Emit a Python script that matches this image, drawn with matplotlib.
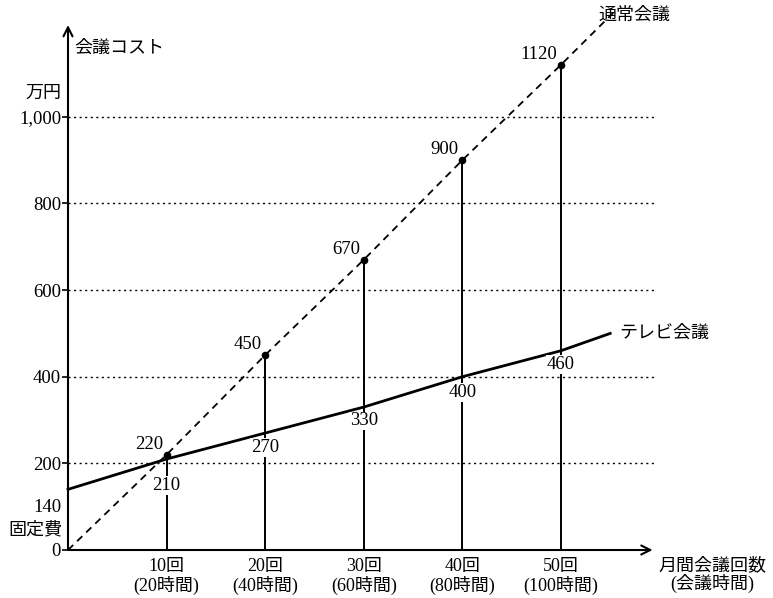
import matplotlib.pyplot as plt

plt.rcParams['font.family'] = ['Liberation Serif', 'Noto Sans CJK JP']
plt.rcParams['font.size'] = 13

# 月間会議回数と会議時間
meetings = [10, 20, 30, 40, 50]
hours = [20, 40, 60, 80, 100]

# 会議コスト（万円）
normal_cost = [220, 450, 670, 900, 1120]
tv_cost = [210, 270, 330, 400, 460]
fixed_cost = 140

# 直線の終点（グラフ外まで延長）
normal_end = (55.3, 1240)
tv_end = (55.0, 500)

y_ticks = [0, 200, 400, 600, 800, 1000]
y_tick_labels = ['0', '200', '400', '600', '800', '1,000']

W, H = 773, 598
fig = plt.figure(figsize=(W / 100, H / 100), dpi=100)
ax = fig.add_axes([68 / W, 48 / H, 591.5 / W, 525 / H])
ax.set_xlim(0, 60)
ax.set_ylim(0, 1212)
for s in ax.spines.values():
    s.set_visible(False)

# 補助線
ax.hlines(y_ticks[1:], 0, 59.5, colors='k', lw=1, linestyles=(0, (1.5, 2.5)))

# 軸（矢印）
arrow = dict(arrowstyle='->,head_length=0.5,head_width=0.25', lw=1.5,
             color='k', shrinkA=0, shrinkB=0)
ax.annotate('', xy=(59.3, 0), xytext=(0, 0), arrowprops=arrow, annotation_clip=False)
ax.annotate('', xy=(0, 1212), xytext=(0, 0), arrowprops=arrow, annotation_clip=False)

ax.set_yticks(y_ticks, y_tick_labels, fontsize=13.5)
ax.tick_params(axis='y', length=4, width=1.2, pad=1, direction='out')
ax.set_xticks(meetings, [f'{m}回\n({h}時間)' for m, h in zip(meetings, hours)])
ax.tick_params(axis='x', length=0, pad=6)
for lab in ax.get_xticklabels():
    lab.set_linespacing(1.05)

# 通常会議
ax.vlines(meetings, 0, normal_cost, colors='k', lw=1.4)
ax.plot([0] + meetings + [normal_end[0]], [0] + normal_cost + [normal_end[1]],
        color='k', lw=1.3, ls=(0, (4, 3)), clip_on=False)
ax.plot(meetings, normal_cost, 'o', ms=4.5, color='k')
for m, v in zip(meetings, normal_cost):
    ax.annotate(str(v), (m, v), xytext=(-2.5, 7.5), textcoords='offset points',
                ha='right', va='center', fontsize=13.5)

# テレビ会議
ax.plot([0] + meetings + [tv_end[0]], [fixed_cost] + tv_cost + [tv_end[1]],
        color='k', lw=2, clip_on=False)
tv_dy = [-19, -10.5, -10, -11.5, -10]
for m, v, dy in zip(meetings, tv_cost, tv_dy):
    ax.annotate(str(v), (m, v), xytext=(0, dy), textcoords='offset points',
                ha='center', va='center', fontsize=13.5,
                bbox=dict(boxstyle='square,pad=0.05', fc='white', ec='none'))

# 文字
fig.text(74 / W, 1 - 48 / H, '会議コスト', ha='left', va='center')
fig.text(61 / W, 1 - 93 / H, '万円', ha='right', va='center')
fig.text(598 / W, 1 - 15 / H, '通常会議', ha='left', va='center')
fig.text(619 / W, 1 - 333 / H, 'テレビ会議', ha='left', va='center')
fig.text(62 / W, 1 - 508 / H, str(fixed_cost), ha='right', va='center', fontsize=13.5)
fig.text(62 / W, 1 - 530 / H, '固定費', ha='right', va='center')
fig.text(712 / W, 1 - 575 / H, '月間会議回数\n(会議時間)', ha='center', va='center',
         linespacing=1.05)

fig.savefig('out.png', dpi=100)
